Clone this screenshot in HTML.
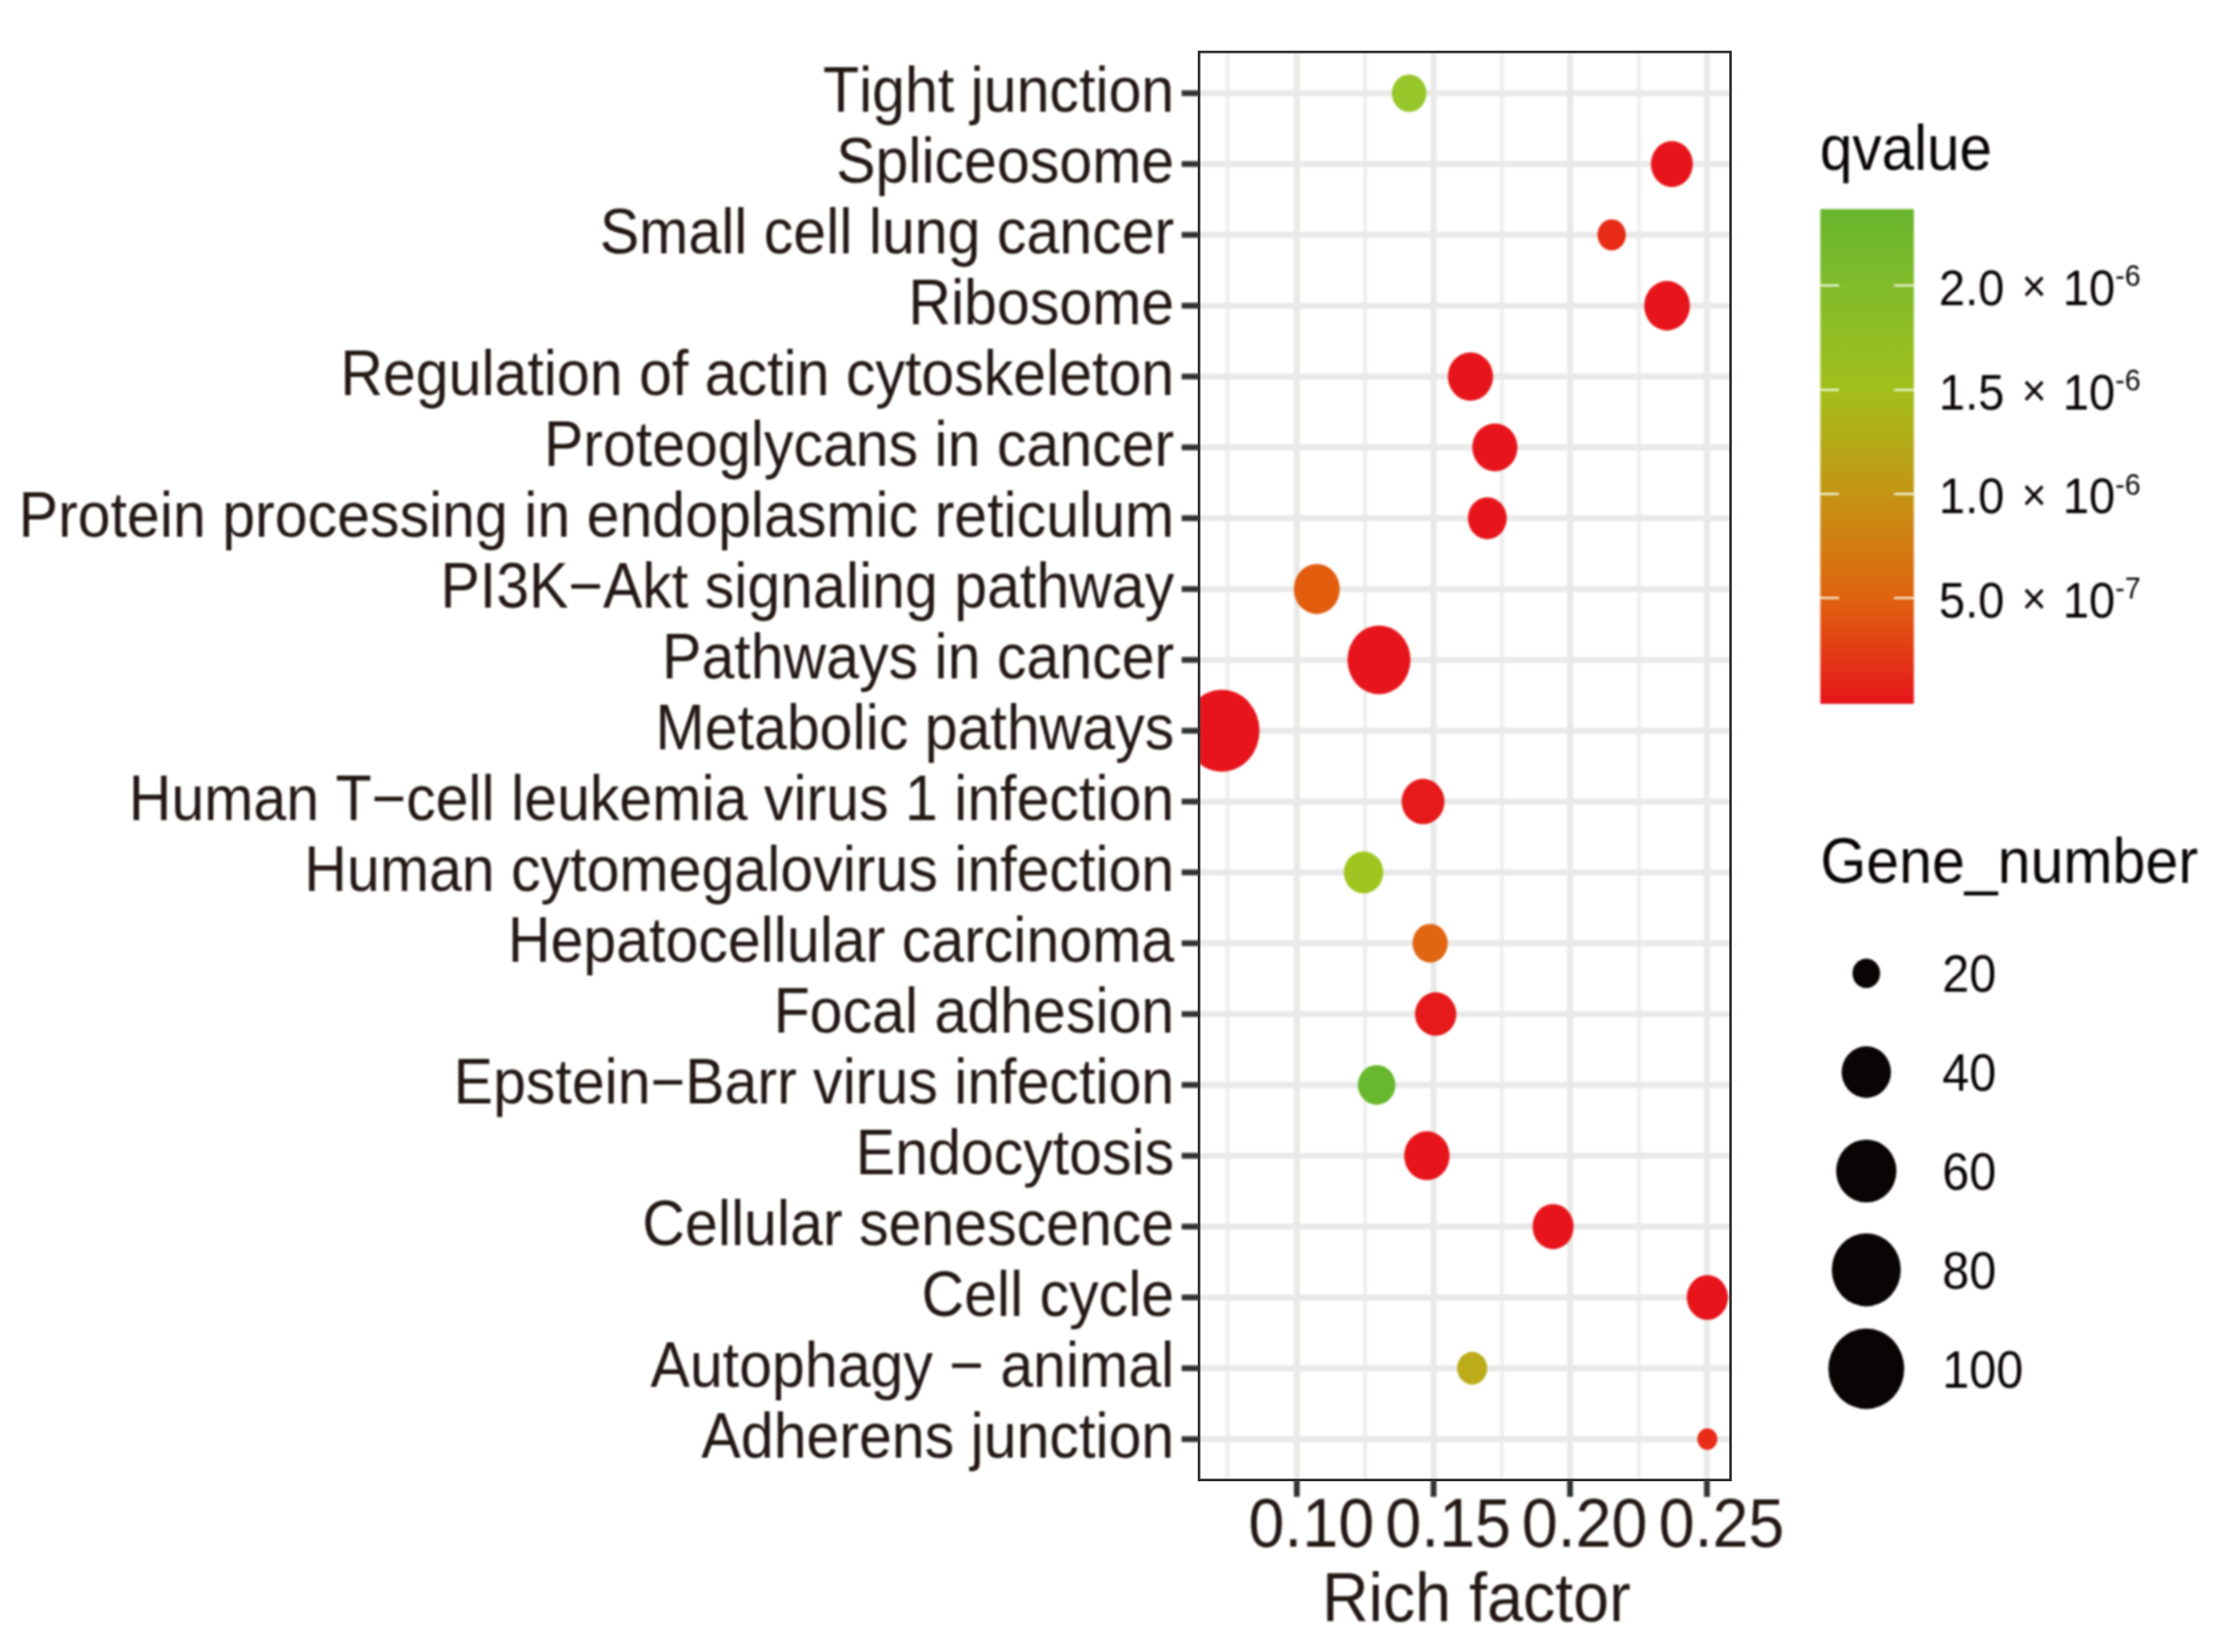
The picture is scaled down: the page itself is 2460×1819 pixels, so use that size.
<!DOCTYPE html>
<html lang="en"><head><meta charset="utf-8"><title>KEGG enrichment bubble plot</title>
<style>html,body{margin:0;padding:0;background:#fff}body{width:2460px;height:1819px;overflow:hidden}svg{display:block}text{font-kerning:none}</style></head>
<body>
<svg width="2460" height="1819" viewBox="0 0 2460 1819" font-family="'Liberation Sans', Arial, Helvetica, sans-serif">
<defs>
<clipPath id="pc"><rect x="1320.3" y="57.2" width="585.3" height="1572.4"/></clipPath>
<linearGradient id="cb" x1="0" y1="0" x2="0" y2="1"><stop offset="0" stop-color="#69b42d"/><stop offset="0.155" stop-color="#80bc2b"/><stop offset="0.366" stop-color="#a3bf1c"/><stop offset="0.576" stop-color="#c49514"/><stop offset="0.787" stop-color="#e0620f"/><stop offset="1" stop-color="#e7151b"/></linearGradient>
<filter id="soft" x="0" y="0" width="2460" height="1819" filterUnits="userSpaceOnUse" color-interpolation-filters="sRGB"><feGaussianBlur stdDeviation="0.85"/></filter>
<filter id="soft2" x="0" y="0" width="2460" height="1819" filterUnits="userSpaceOnUse" color-interpolation-filters="sRGB"><feGaussianBlur stdDeviation="0.45"/></filter>
</defs>
<rect width="2460" height="1819" fill="#fff"/>
<g filter="url(#soft)">
<rect x="1290" y="40" width="640" height="1620" fill="#fff"/>
<g clip-path="url(#pc)">
<line x1="1351.8" x2="1351.8" y1="57.2" y2="1629.6" stroke="#efefee" stroke-width="4.6"/>
<line x1="1503.2" x2="1503.2" y1="57.2" y2="1629.6" stroke="#efefee" stroke-width="4.6"/>
<line x1="1653.9" x2="1653.9" y1="57.2" y2="1629.6" stroke="#efefee" stroke-width="4.6"/>
<line x1="1804.8" x2="1804.8" y1="57.2" y2="1629.6" stroke="#efefee" stroke-width="4.6"/>
<line x1="1428.0" x2="1428.0" y1="57.2" y2="1629.6" stroke="#e9e9e8" stroke-width="6.6"/>
<line x1="1578.6" x2="1578.6" y1="57.2" y2="1629.6" stroke="#e9e9e8" stroke-width="6.6"/>
<line x1="1728.9" x2="1728.9" y1="57.2" y2="1629.6" stroke="#e9e9e8" stroke-width="6.6"/>
<line x1="1879.6" x2="1879.6" y1="57.2" y2="1629.6" stroke="#e9e9e8" stroke-width="6.6"/>
<line x1="1320.3" x2="1905.6" y1="102.6" y2="102.6" stroke="#e9e9e8" stroke-width="6.6"/>
<line x1="1320.3" x2="1905.6" y1="180.6" y2="180.6" stroke="#e9e9e8" stroke-width="6.6"/>
<line x1="1320.3" x2="1905.6" y1="258.6" y2="258.6" stroke="#e9e9e8" stroke-width="6.6"/>
<line x1="1320.3" x2="1905.6" y1="336.6" y2="336.6" stroke="#e9e9e8" stroke-width="6.6"/>
<line x1="1320.3" x2="1905.6" y1="414.6" y2="414.6" stroke="#e9e9e8" stroke-width="6.6"/>
<line x1="1320.3" x2="1905.6" y1="492.6" y2="492.6" stroke="#e9e9e8" stroke-width="6.6"/>
<line x1="1320.3" x2="1905.6" y1="570.6" y2="570.6" stroke="#e9e9e8" stroke-width="6.6"/>
<line x1="1320.3" x2="1905.6" y1="648.6" y2="648.6" stroke="#e9e9e8" stroke-width="6.6"/>
<line x1="1320.3" x2="1905.6" y1="726.6" y2="726.6" stroke="#e9e9e8" stroke-width="6.6"/>
<line x1="1320.3" x2="1905.6" y1="804.6" y2="804.6" stroke="#e9e9e8" stroke-width="6.6"/>
<line x1="1320.3" x2="1905.6" y1="882.6" y2="882.6" stroke="#e9e9e8" stroke-width="6.6"/>
<line x1="1320.3" x2="1905.6" y1="960.6" y2="960.6" stroke="#e9e9e8" stroke-width="6.6"/>
<line x1="1320.3" x2="1905.6" y1="1038.6" y2="1038.6" stroke="#e9e9e8" stroke-width="6.6"/>
<line x1="1320.3" x2="1905.6" y1="1116.6" y2="1116.6" stroke="#e9e9e8" stroke-width="6.6"/>
<line x1="1320.3" x2="1905.6" y1="1194.6" y2="1194.6" stroke="#e9e9e8" stroke-width="6.6"/>
<line x1="1320.3" x2="1905.6" y1="1272.6" y2="1272.6" stroke="#e9e9e8" stroke-width="6.6"/>
<line x1="1320.3" x2="1905.6" y1="1350.6" y2="1350.6" stroke="#e9e9e8" stroke-width="6.6"/>
<line x1="1320.3" x2="1905.6" y1="1428.6" y2="1428.6" stroke="#e9e9e8" stroke-width="6.6"/>
<line x1="1320.3" x2="1905.6" y1="1506.6" y2="1506.6" stroke="#e9e9e8" stroke-width="6.6"/>
<line x1="1320.3" x2="1905.6" y1="1584.6" y2="1584.6" stroke="#e9e9e8" stroke-width="6.6"/>
<ellipse cx="1551.7" cy="102.6" rx="19.0" ry="20.7" fill="#97c72a"/>
<ellipse cx="1841.0" cy="180.6" rx="23.1" ry="25.4" fill="#e7151b"/>
<ellipse cx="1774.7" cy="258.6" rx="15.6" ry="17.2" fill="#e82c17"/>
<ellipse cx="1835.7" cy="336.6" rx="25.2" ry="27.3" fill="#e7151b"/>
<ellipse cx="1619.2" cy="414.6" rx="24.9" ry="26.6" fill="#e7151b"/>
<ellipse cx="1646.1" cy="492.6" rx="24.9" ry="26.4" fill="#e7151b"/>
<ellipse cx="1637.8" cy="570.6" rx="21.4" ry="23.2" fill="#e7151b"/>
<ellipse cx="1450.0" cy="648.6" rx="25.3" ry="27.6" fill="#e35d0f"/>
<ellipse cx="1518.5" cy="726.6" rx="34.7" ry="37.9" fill="#e7151b"/>
<ellipse cx="1345.4" cy="804.6" rx="41.5" ry="45.2" fill="#e7151b"/>
<ellipse cx="1567.0" cy="882.6" rx="23.6" ry="25.0" fill="#e6191b"/>
<ellipse cx="1501.5" cy="960.6" rx="21.7" ry="23.2" fill="#a0c520"/>
<ellipse cx="1574.8" cy="1038.6" rx="19.4" ry="21.4" fill="#e06612"/>
<ellipse cx="1580.9" cy="1116.6" rx="22.8" ry="24.0" fill="#e6191b"/>
<ellipse cx="1515.9" cy="1194.6" rx="20.7" ry="21.9" fill="#67b82e"/>
<ellipse cx="1571.2" cy="1272.6" rx="25.0" ry="27.0" fill="#e7151b"/>
<ellipse cx="1710.2" cy="1350.6" rx="22.6" ry="24.9" fill="#e7151b"/>
<ellipse cx="1880.1" cy="1428.6" rx="22.7" ry="24.7" fill="#e7151b"/>
<ellipse cx="1621.1" cy="1506.6" rx="16.6" ry="18.0" fill="#bcac1a"/>
<ellipse cx="1880.1" cy="1584.6" rx="11.0" ry="11.8" fill="#e82c17"/>
</g>
<line x1="1301.2" x2="1320.3" y1="102.6" y2="102.6" stroke="#303332" stroke-width="6.4"/>
<line x1="1301.2" x2="1320.3" y1="180.6" y2="180.6" stroke="#303332" stroke-width="6.4"/>
<line x1="1301.2" x2="1320.3" y1="258.6" y2="258.6" stroke="#303332" stroke-width="6.4"/>
<line x1="1301.2" x2="1320.3" y1="336.6" y2="336.6" stroke="#303332" stroke-width="6.4"/>
<line x1="1301.2" x2="1320.3" y1="414.6" y2="414.6" stroke="#303332" stroke-width="6.4"/>
<line x1="1301.2" x2="1320.3" y1="492.6" y2="492.6" stroke="#303332" stroke-width="6.4"/>
<line x1="1301.2" x2="1320.3" y1="570.6" y2="570.6" stroke="#303332" stroke-width="6.4"/>
<line x1="1301.2" x2="1320.3" y1="648.6" y2="648.6" stroke="#303332" stroke-width="6.4"/>
<line x1="1301.2" x2="1320.3" y1="726.6" y2="726.6" stroke="#303332" stroke-width="6.4"/>
<line x1="1301.2" x2="1320.3" y1="804.6" y2="804.6" stroke="#303332" stroke-width="6.4"/>
<line x1="1301.2" x2="1320.3" y1="882.6" y2="882.6" stroke="#303332" stroke-width="6.4"/>
<line x1="1301.2" x2="1320.3" y1="960.6" y2="960.6" stroke="#303332" stroke-width="6.4"/>
<line x1="1301.2" x2="1320.3" y1="1038.6" y2="1038.6" stroke="#303332" stroke-width="6.4"/>
<line x1="1301.2" x2="1320.3" y1="1116.6" y2="1116.6" stroke="#303332" stroke-width="6.4"/>
<line x1="1301.2" x2="1320.3" y1="1194.6" y2="1194.6" stroke="#303332" stroke-width="6.4"/>
<line x1="1301.2" x2="1320.3" y1="1272.6" y2="1272.6" stroke="#303332" stroke-width="6.4"/>
<line x1="1301.2" x2="1320.3" y1="1350.6" y2="1350.6" stroke="#303332" stroke-width="6.4"/>
<line x1="1301.2" x2="1320.3" y1="1428.6" y2="1428.6" stroke="#303332" stroke-width="6.4"/>
<line x1="1301.2" x2="1320.3" y1="1506.6" y2="1506.6" stroke="#303332" stroke-width="6.4"/>
<line x1="1301.2" x2="1320.3" y1="1584.6" y2="1584.6" stroke="#303332" stroke-width="6.4"/>
<line x1="1428.0" x2="1428.0" y1="1629.6" y2="1648.2" stroke="#303332" stroke-width="6.4"/>
<line x1="1578.6" x2="1578.6" y1="1629.6" y2="1648.2" stroke="#303332" stroke-width="6.4"/>
<line x1="1728.9" x2="1728.9" y1="1629.6" y2="1648.2" stroke="#303332" stroke-width="6.4"/>
<line x1="1879.6" x2="1879.6" y1="1629.6" y2="1648.2" stroke="#303332" stroke-width="6.4"/>
</g>
<rect x="1320.3" y="57.2" width="585.3" height="1572.4" fill="none" stroke="#2b2f2e" stroke-width="2.8" filter="url(#soft2)"/>
<g filter="url(#soft)">
<text transform="translate(1293.0 122.6) scale(0.936 1)" font-size="69.5" text-anchor="end" fill="#231815">Tight junction</text>
<text transform="translate(1293.0 200.6) scale(0.936 1)" font-size="69.5" text-anchor="end" fill="#231815">Spliceosome</text>
<text transform="translate(1293.0 278.6) scale(0.936 1)" font-size="69.5" text-anchor="end" fill="#231815">Small cell lung cancer</text>
<text transform="translate(1293.0 356.6) scale(0.936 1)" font-size="69.5" text-anchor="end" fill="#231815">Ribosome</text>
<text transform="translate(1293.0 434.6) scale(0.936 1)" font-size="69.5" text-anchor="end" fill="#231815">Regulation of actin cytoskeleton</text>
<text transform="translate(1293.0 512.6) scale(0.936 1)" font-size="69.5" text-anchor="end" fill="#231815">Proteoglycans in cancer</text>
<text transform="translate(1293.0 590.6) scale(0.936 1)" font-size="69.5" text-anchor="end" fill="#231815">Protein processing in endoplasmic reticulum</text>
<text transform="translate(1293.0 668.6) scale(0.936 1)" font-size="69.5" text-anchor="end" fill="#231815">PI3K−Akt signaling pathway</text>
<text transform="translate(1293.0 746.6) scale(0.936 1)" font-size="69.5" text-anchor="end" fill="#231815">Pathways in cancer</text>
<text transform="translate(1293.0 824.6) scale(0.936 1)" font-size="69.5" text-anchor="end" fill="#231815">Metabolic pathways</text>
<text transform="translate(1293.0 902.6) scale(0.936 1)" font-size="69.5" text-anchor="end" fill="#231815">Human T−cell leukemia virus 1 infection</text>
<text transform="translate(1293.0 980.6) scale(0.936 1)" font-size="69.5" text-anchor="end" fill="#231815">Human cytomegalovirus infection</text>
<text transform="translate(1293.0 1058.6) scale(0.936 1)" font-size="69.5" text-anchor="end" fill="#231815">Hepatocellular carcinoma</text>
<text transform="translate(1293.0 1136.6) scale(0.936 1)" font-size="69.5" text-anchor="end" fill="#231815">Focal adhesion</text>
<text transform="translate(1293.0 1214.6) scale(0.936 1)" font-size="69.5" text-anchor="end" fill="#231815">Epstein−Barr virus infection</text>
<text transform="translate(1293.0 1292.6) scale(0.936 1)" font-size="69.5" text-anchor="end" fill="#231815">Endocytosis</text>
<text transform="translate(1293.0 1370.6) scale(0.936 1)" font-size="69.5" text-anchor="end" fill="#231815">Cellular senescence</text>
<text transform="translate(1293.0 1448.6) scale(0.936 1)" font-size="69.5" text-anchor="end" fill="#231815">Cell cycle</text>
<text transform="translate(1293.0 1526.6) scale(0.936 1)" font-size="69.5" text-anchor="end" fill="#231815">Autophagy − animal</text>
<text transform="translate(1293.0 1604.6) scale(0.936 1)" font-size="69.5" text-anchor="end" fill="#231815">Adherens junction</text>
<text transform="translate(1444.0 1703.0) scale(0.936 1)" font-size="76" text-anchor="middle" fill="#231815">0.10</text>
<text transform="translate(1594.6 1703.0) scale(0.936 1)" font-size="76" text-anchor="middle" fill="#231815">0.15</text>
<text transform="translate(1744.9 1703.0) scale(0.936 1)" font-size="76" text-anchor="middle" fill="#231815">0.20</text>
<text transform="translate(1895.6 1703.0) scale(0.936 1)" font-size="76" text-anchor="middle" fill="#231815">0.25</text>
<text transform="translate(1625.6 1784.5) scale(0.936 1)" font-size="76" text-anchor="middle" fill="#231815">Rich factor</text>
<text transform="translate(2004.0 186.8) scale(0.926 1)" font-size="69.5" text-anchor="start" fill="#0a0505">qvalue</text>
<rect x="2004.5" y="230.2" width="103" height="544.8" fill="url(#cb)"/>
<line x1="2004.5" x2="2025" y1="314.3" y2="314.3" stroke="#f4f9e6" stroke-width="2.2"/>
<line x1="2085.6" x2="2107.5" y1="314.3" y2="314.3" stroke="#f4f9e6" stroke-width="2.2"/>
<line x1="2004.5" x2="2025" y1="429.3" y2="429.3" stroke="#f4f9e6" stroke-width="2.2"/>
<line x1="2085.6" x2="2107.5" y1="429.3" y2="429.3" stroke="#f4f9e6" stroke-width="2.2"/>
<line x1="2004.5" x2="2025" y1="543.9" y2="543.9" stroke="#f4f9e6" stroke-width="2.2"/>
<line x1="2085.6" x2="2107.5" y1="543.9" y2="543.9" stroke="#f4f9e6" stroke-width="2.2"/>
<line x1="2004.5" x2="2025" y1="658.4" y2="658.4" stroke="#f4f9e6" stroke-width="2.2"/>
<line x1="2085.6" x2="2107.5" y1="658.4" y2="658.4" stroke="#f4f9e6" stroke-width="2.2"/>
<text transform="translate(2135.0 335.8) scale(0.936 1)" font-size="55.5" fill="#0a0505">2.0 <tspan dx="5.0" dy="-3.6" font-size="50">×</tspan><tspan dx="3.6" dy="3.6"> 10</tspan><tspan font-size="33.5" dy="-20.5">-6</tspan></text>
<text transform="translate(2135.0 450.8) scale(0.936 1)" font-size="55.5" fill="#0a0505">1.5 <tspan dx="5.0" dy="-3.6" font-size="50">×</tspan><tspan dx="3.6" dy="3.6"> 10</tspan><tspan font-size="33.5" dy="-20.5">-6</tspan></text>
<text transform="translate(2135.0 565.4) scale(0.936 1)" font-size="55.5" fill="#0a0505">1.0 <tspan dx="5.0" dy="-3.6" font-size="50">×</tspan><tspan dx="3.6" dy="3.6"> 10</tspan><tspan font-size="33.5" dy="-20.5">-6</tspan></text>
<text transform="translate(2135.0 679.9) scale(0.936 1)" font-size="55.5" fill="#0a0505">5.0 <tspan dx="5.0" dy="-3.6" font-size="50">×</tspan><tspan dx="3.6" dy="3.6"> 10</tspan><tspan font-size="33.5" dy="-20.5">-7</tspan></text>
<text transform="translate(2004.5 972.1) scale(0.936 1)" font-size="69.5" text-anchor="start" fill="#0a0505">Gene_number</text>
<ellipse cx="2055.1" cy="1071.7" rx="15.2" ry="16.3" fill="#0a0505"/>
<text transform="translate(2138.8 1092.3) scale(0.945 1)" font-size="56.5" text-anchor="start" fill="#0a0505">20</text>
<ellipse cx="2055.1" cy="1180.5" rx="27.2" ry="28.4" fill="#0a0505"/>
<text transform="translate(2138.8 1201.1) scale(0.945 1)" font-size="56.5" text-anchor="start" fill="#0a0505">40</text>
<ellipse cx="2055.1" cy="1289.4" rx="33.2" ry="34.7" fill="#0a0505"/>
<text transform="translate(2138.8 1310.0) scale(0.945 1)" font-size="56.5" text-anchor="start" fill="#0a0505">60</text>
<ellipse cx="2055.1" cy="1398.2" rx="38.0" ry="40.2" fill="#0a0505"/>
<text transform="translate(2138.8 1418.8) scale(0.945 1)" font-size="56.5" text-anchor="start" fill="#0a0505">80</text>
<ellipse cx="2055.1" cy="1507.1" rx="41.8" ry="44.3" fill="#0a0505"/>
<text transform="translate(2138.8 1527.7) scale(0.945 1)" font-size="56.5" text-anchor="start" fill="#0a0505">100</text>
</g>
</svg>
</body></html>
